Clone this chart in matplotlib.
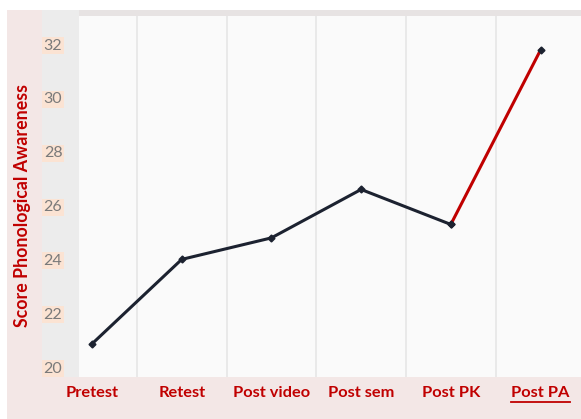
import matplotlib
matplotlib.use("Agg")
import matplotlib.pyplot as plt
from matplotlib.patches import Rectangle
from matplotlib.lines import Line2D

categories = ["Pretest", "Retest", "Post video", "Post sem", "Post PK", "Post PA"]
scores = [20.86, 24.0, 24.8, 26.6, 25.3, 31.78]
yticks = [20, 22, 24, 26, 28, 30, 32]

W, H = 581, 419
fig = plt.figure(figsize=(W / 100, H / 100), dpi=100)
fig.patch.set_facecolor("white")
plt.rcParams['font.family'] = ['Lato', 'DejaVu Sans']

def fx(px):
    return px / W

def fy(py):
    return 1 - py / H

# background bands
for r in [
    Rectangle((fx(7), 0), fx(581 - 7), fy(10), facecolor="#f3e7e6"),
    Rectangle((fx(42), fy(377)), fx(79 - 42), (377 - 10) / H, facecolor="#ececec"),
    Rectangle((fx(79), fy(16)), fx(581 - 79), 6 / H, facecolor="#e7e3e3"),
]:
    r.set_transform(fig.transFigure)
    r.set_edgecolor("none")
    r.set_zorder(-5)
    fig.add_artist(r)

left, right, top, bottom = 79, 581, 16, 377
ax = fig.add_axes([fx(left), fy(bottom), fx(right - left), (bottom - top) / H])
ax.set_zorder(1)
ax.set_facecolor("#fafafa")

x = list(range(len(categories)))
ax.plot(x[:5], scores[:5], color="#1c2230", lw=2.2, marker="D", ms=3.5, zorder=3)
ax.plot(x[4:], scores[4:], color="#c00000", lw=2.2, zorder=3)
ax.plot(x[4:], scores[4:], color="#1c2230", lw=0, marker="D", ms=3.5, zorder=4)

step = 89.7
c0 = 92
ax.set_xlim((left - c0) / step, (right - c0) / step)
ppu = 26.9
y20 = 367
ax.set_ylim(20 - (bottom - y20) / ppu, 20 + (y20 - top) / ppu)

for i in range(len(categories) - 1):
    ax.axvline(i + 0.5, color="#e6e6e6", lw=1.2, zorder=1)

for s in ax.spines.values():
    s.set_visible(False)

ax.set_xticks([])
ax.set_yticks(yticks)
ax.set_yticklabels([str(v) for v in yticks])
ax.tick_params(axis="y", length=0, pad=12, labelsize=11.5, labelcolor="#7a7a7a")
for lab in ax.get_yticklabels():
    lab.set_bbox(dict(facecolor="#fbe3d3", edgecolor="none", pad=1.0))

for i, c in enumerate(categories):
    t = ax.text(i, 20 - (393 - y20) / ppu, c, ha="center", va="center", color="#c00000",
                fontsize=11.8, fontweight="bold", clip_on=False)
    if c == "Post PA":
        fig.canvas.draw()
        bb = t.get_window_extent(renderer=fig.canvas.get_renderer())
        uy = bb.y0 - 2
        fig.add_artist(Line2D([bb.x0 / W, bb.x1 / W], [uy / H, uy / H],
                              transform=fig.transFigure, color="#c00000", lw=1.3, zorder=5))

fig.text(fx(23), fy(205), "Score Phonological Awareness", rotation=90, ha="center", va="center",
         color="#c00000", fontsize=12.8, fontweight="bold")

fig.savefig("out.png", dpi=100, facecolor=fig.get_facecolor())
